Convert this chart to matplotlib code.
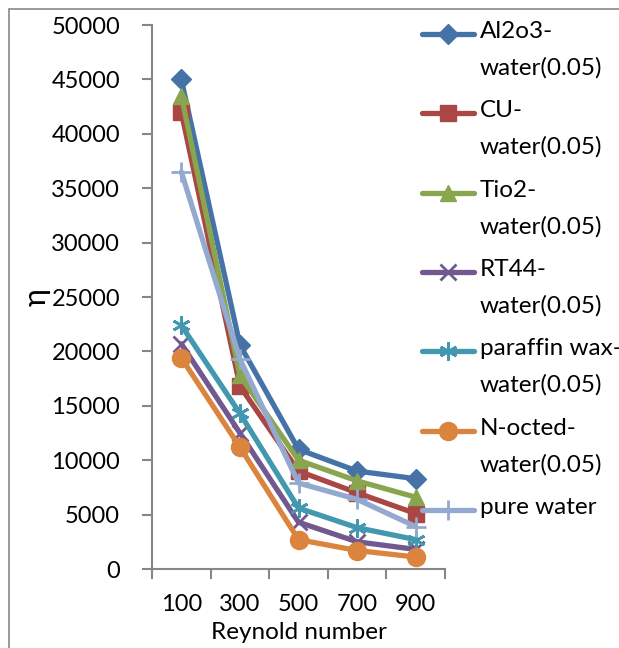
import matplotlib
matplotlib.use("Agg")
import matplotlib.pyplot as plt
from matplotlib.patches import Rectangle
from matplotlib.lines import Line2D
import numpy as np

categories = ["100", "300", "500", "700", "900"]
series_names = ["Al2o3-\nwater(0.05)", "CU-\nwater(0.05)", "Tio2-\nwater(0.05)",
                "RT44-\nwater(0.05)", "paraffin wax-\nwater(0.05)", "N-octed-\nwater(0.05)",
                "pure water"]
al2o3 = [45000, 20600, 11000, 9000, 8300]
cu = [42000, 16800, 9000, 7000, 5100]
tio2 = [43500, 17800, 10000, 8100, 6600]
rt44 = [20700, 12500, 4300, 2500, 1800]
paraffin = [22400, 14300, 5600, 3800, 2700]
noctane = [19400, 11200, 2700, 1700, 1100]
pure = [36500, 19300, 7900, 6400, 3900]

series = [al2o3, cu, tio2, rt44, paraffin, noctane, pure]
colors = ["#4572A7", "#AA4643", "#89A54E", "#71588F", "#4198AF", "#DB843D", "#93A9CF"]
markers = ["D", "s", "^", "x", (6, 2, 0), "o", "+"]
msizes = [10, 11, 11, 11, 13, 13, 15]

plt.rcParams['font.family'] = ['Lato', 'DejaVu Sans']

W, H = 619, 648
fig = plt.figure(figsize=(W/100, H/100), dpi=100)
ax = fig.add_axes([152/W, 1-569/H, (445-152)/W, (569-25)/H])

x = np.arange(len(categories))
for vals, name, c, m, ms in zip(series, series_names, colors, markers, msizes):
    mew = 2 if m in ("x", "+", (6, 2, 0)) else 1
    ax.plot(x, vals, color=c, lw=3.8, marker=m, markersize=ms, label=name,
            markeredgewidth=mew, markeredgecolor=c, markerfacecolor=c,
            solid_capstyle='round', clip_on=False)

ax.set_xlim(-0.5, 4.5)
ax.set_ylim(0, 50000)
ax.set_yticks(np.arange(0, 50001, 5000))
ax.set_xticks(np.arange(-0.5, 4.6, 1.0))
ax.set_xticklabels([])
ax.set_xticks(x, minor=True)
ax.set_xticklabels(categories, minor=True)
ax.tick_params(axis='x', which='minor', length=0, pad=18, labelsize=17)
ax.tick_params(axis='x', which='major', length=7, direction='out', color='#868686', width=1.5)
ax.tick_params(axis='y', length=7, direction='out', color='#868686', width=1.5, labelsize=17, pad=16)
for s in ["top", "right"]:
    ax.spines[s].set_visible(False)
for s in ["left", "bottom"]:
    ax.spines[s].set_color('#868686')
    ax.spines[s].set_linewidth(1.5)

ax.set_xlabel("Reynold number", fontsize=17.5, labelpad=5)
ax.set_ylabel("η", fontsize=22, labelpad=0)

# manual legend (handle aligned with first text line, as in the reference)
first_line_y = [34, 113, 193, 272, 351, 431, 510]
for name, c, m, ms, yy in zip(series_names, colors, markers, msizes, first_line_y):
    mew = 2 if m in ("x", "+", (6, 2, 0)) else 1
    fy = 1 - yy/H
    fig.add_artist(Line2D([422/W, 474/W], [fy, fy], transform=fig.transFigure,
                          color=c, lw=3.8, solid_capstyle='round'))
    fig.add_artist(Line2D([448/W], [fy], transform=fig.transFigure, color=c,
                          marker=m, markersize=ms, markeredgewidth=mew,
                          markeredgecolor=c, markerfacecolor=c))
    fig.text(480/W, fy + 13/H, name, fontsize=17.5, va='top', ha='left', linespacing=1.88,
             transform=fig.transFigure)

fig.patches.append(Rectangle((9/W, -0.01), 1.0, 1 - 9/H + 0.01, transform=fig.transFigure,
                             fill=False, edgecolor='#888888', lw=1.2, zorder=-1))

fig.savefig("out.png", dpi=100)
